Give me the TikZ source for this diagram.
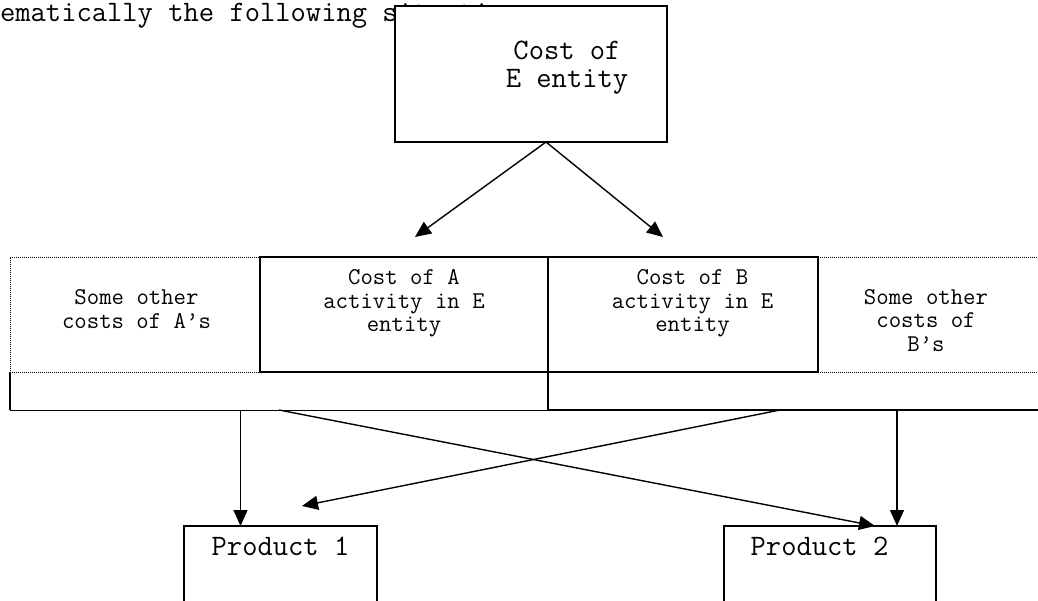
\documentclass[tikz,border=0pt]{standalone}
\usepackage{fontspec}
\usetikzlibrary{arrows.meta,positioning,calc}

\begin{document}
\begin{tikzpicture}[x=1pt,y=-1pt]
\tikzset{
  box/.style={rectangle, draw=black, line width=1.5pt, inner sep=0pt, outer sep=0pt, anchor=north west},
  dotbox/.style={rectangle, draw=black, line width=0.9pt, dash pattern=on 1pt off 1pt, inner sep=0pt, outer sep=0pt, anchor=north west},
  pool/.style={rectangle, inner sep=0pt, outer sep=0pt, anchor=north west},
  bigtxt/.style={font=\ttfamily\fontsize{29.7}{28}\selectfont, align=center, inner sep=0pt},
  smalltxt/.style={font=\ttfamily\fontsize{24.1}{23.4}\selectfont, align=center, inner sep=0pt},
  arrow/.style={line width=1.4pt, -{Triangle[length=16pt,width=14pt]}},
}
\useasboundingbox (0,0) rectangle (1038,601);

%line of text above, partly hidden by the top box
\node (intro) [bigtxt, anchor=base west] at (-46,22) {schematically the following situation:};

%nodes
\node (ecost) [box, fill=white, minimum width=272, minimum height=136,
  label={[bigtxt, xshift=36, yshift=6]center:Cost of\\E entity}] at (395,6) {};

\node (othera) [dotbox, minimum width=250, minimum height=115,
  label={[smalltxt, xshift=1.5, yshift=5.5]center:Some other\\costs of A’s}] at (10,257) {};
\node (acost) [box, minimum width=288, minimum height=115, right=0pt of othera.north east, anchor=north west,
  label={[smalltxt, yshift=11]center:Cost of A\\activity in E\\entity}] {};
\node (bcost) [box, minimum width=270, minimum height=115, right=0pt of acost.north east, anchor=north west,
  label={[smalltxt, xshift=9.5, yshift=11]center:Cost of B\\activity in E\\entity}] {};
\node (otherb) [dotbox, minimum width=228, minimum height=115, right=0pt of bcost.north east, anchor=north west,
  label={[smalltxt, xshift=-6, yshift=-6]center:Some other\\costs of\\B’s}] {};

\node (apool) [pool, minimum width=538, minimum height=38] at (10,372) {};
\node (bpool) [pool, minimum width=500, minimum height=38] at (548,372) {};

\node (prod1) [box, minimum width=193, minimum height=90,
  label={[bigtxt, yshift=24.5]center:Product 1}] at (184,526) {};
\node (prod2) [box, minimum width=212, minimum height=90,
  label={[bigtxt, xshift=-10.5, yshift=24.5]center:Product 2}] at (724,526) {};

\coordinate (atip) at (415,237);
\coordinate (btip) at (663,237);
\coordinate (p1tip) at ($(prod1.north)+(-40,0)$);
\coordinate (p1side) at (302,506);
\coordinate (p2tip) at ($(prod2.north)+(45,0)$);
\coordinate (p2top) at ($(prod2.north)+(67,0)$);

%pool edges
\draw [line width=1.5pt] (apool.north west) -- (apool.south west);
\draw [line width=1pt] (apool.south west) -- (apool.south east);
\draw [line width=1.5pt] (bcost.south west) -- (bpool.south west) -- (bpool.south east);

%arrows
\draw [arrow] ($(ecost.south)+(15,0)$) -- (atip);
\draw [arrow] ($(ecost.south)+(15,0)$) -- (btip);
\draw [arrow] (apool.south -| p1tip) -- (p1tip);
\draw [arrow] (apool.south) -- (p2tip);
\draw [arrow] ($(bpool.south)+(-18,0)$) -- (p1side);
\draw [arrow] (bpool.south -| p2top) -- (p2top);
\end{tikzpicture}
\end{document}
